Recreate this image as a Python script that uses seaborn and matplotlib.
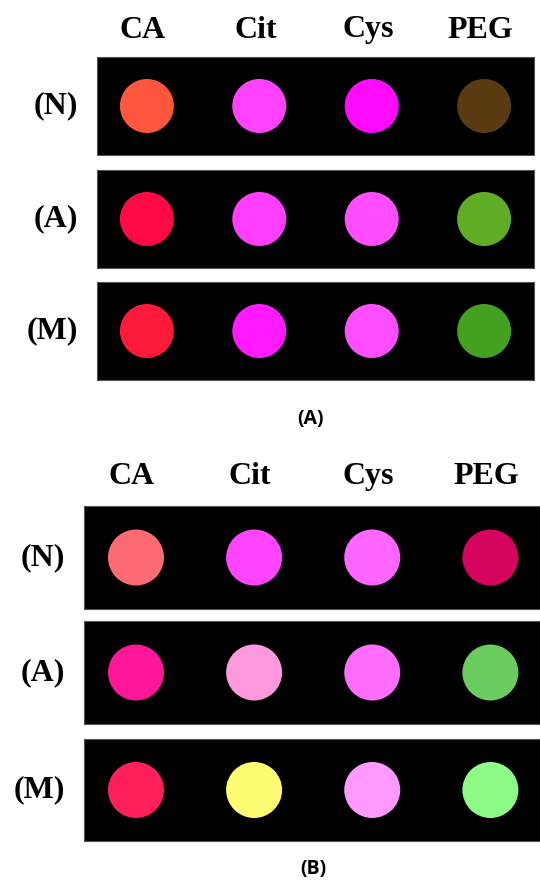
"""
Colour response of coated nanoparticles in three conditions, two panels.
"""

import pandas as pd
import matplotlib.pyplot as plt
import seaborn as sns

sns.set_theme(style="white")
plt.rcParams['font.family'] = ['Liberation Serif', 'DejaVu Serif']
plt.rcParams['text.color'] = 'black'

# -----------------------------
# Data
# -----------------------------
coatings = ["CA", "Cit", "Cys", "PEG"]
conditions = ["(N)", "(A)", "(M)"]

# panel (A) spot colours, one list per condition row
a_n = ["#FF573E", "#FF42FF", "#FF0AFF", "#5B3B12"]
a_a = ["#FF0A45", "#FF3EFF", "#FF4DFF", "#5FAE26"]
a_m = ["#FF1A3C", "#FF1AFF", "#FF4EFF", "#44A01F"]

# panel (B) spot colours
b_n = ["#FF6B73", "#FF45FF", "#FF66FF", "#D4045F"]
b_a = ["#FF1799", "#FF99DD", "#FF6DFF", "#6BCD60"]
b_m = ["#FF1F5B", "#FFFB72", "#FF99FF", "#8CFC86"]

# -----------------------------
# Layout (pixel boxes: left, top, right, bottom)
# -----------------------------
W, H = 540, 881
fig = plt.figure(figsize=(W / 100, H / 100), dpi=100)
fig.patch.set_facecolor("white")


def px_axes(x0, y0, x1, y1):
    return fig.add_axes([x0 / W, 1 - y1 / H, (x1 - x0) / W, (y1 - y0) / H])


panels = [
    {
        "rows": [a_n, a_a, a_m],
        "boxes": [(97, 57, 534, 155), (97, 170, 534, 268), (97, 282, 534, 380)],
        "xlim": (-0.444, 3.444),
        "size": 1512,
        "pad": 9,
    },
    {
        "rows": [b_n, b_a, b_m],
        "boxes": [(84, 506, 540, 609), (84, 621, 540, 724), (84, 739, 540, 841)],
        "xlim": (-0.44, 3.42),
        "size": 1626,
        "pad": 11,
    },
]

for panel in panels:
    for i, (cols, box) in enumerate(zip(panel["rows"], panel["boxes"])):
        ax = px_axes(*box)
        df = pd.DataFrame({"x": range(len(coatings)), "y": 0, "col": cols})
        sns.scatterplot(data=df, x="x", y="y", hue="col",
                        palette={c: c for c in cols}, s=panel["size"],
                        linewidth=0, legend=False, ax=ax)
        ax.set_facecolor("black")
        ax.set_xlim(*panel["xlim"])
        ax.set_ylim(-0.5, 0.5)
        ax.set_xlabel("")
        ax.set_ylabel("")
        ax.set_yticks([])
        for sp in ax.spines.values():
            sp.set_color("#555555")
            sp.set_linewidth(0.8)

        # column headers above first row
        if i == 0:
            ax.xaxis.set_ticks_position("top")
            ax.set_xticks([k - 0.035 for k in range(len(coatings))])
            ax.set_xticklabels(coatings, fontsize=23, fontweight="bold")
            ax.tick_params(axis="x", length=0, pad=panel["pad"], colors="black")
        else:
            ax.set_xticks([])

        # row label on the left
        ax.text(-19 / (box[2] - box[0]), 0.5, conditions[i], transform=ax.transAxes,
                ha="right", va="center", fontsize=23, fontweight="bold",
                color="black")

# panel captions
fig.text(311 / W, 1 - 419 / H, "(A)", ha="center", va="center", color="black",
         fontsize=14, fontweight="bold", family=["Open Sans", "DejaVu Sans"])
fig.text(313 / W, 1 - 869 / H, "(B)", ha="center", va="center", color="black",
         fontsize=14, fontweight="bold", family=["Open Sans", "DejaVu Sans"])

fig.savefig("out.png", dpi=100, facecolor="white")
